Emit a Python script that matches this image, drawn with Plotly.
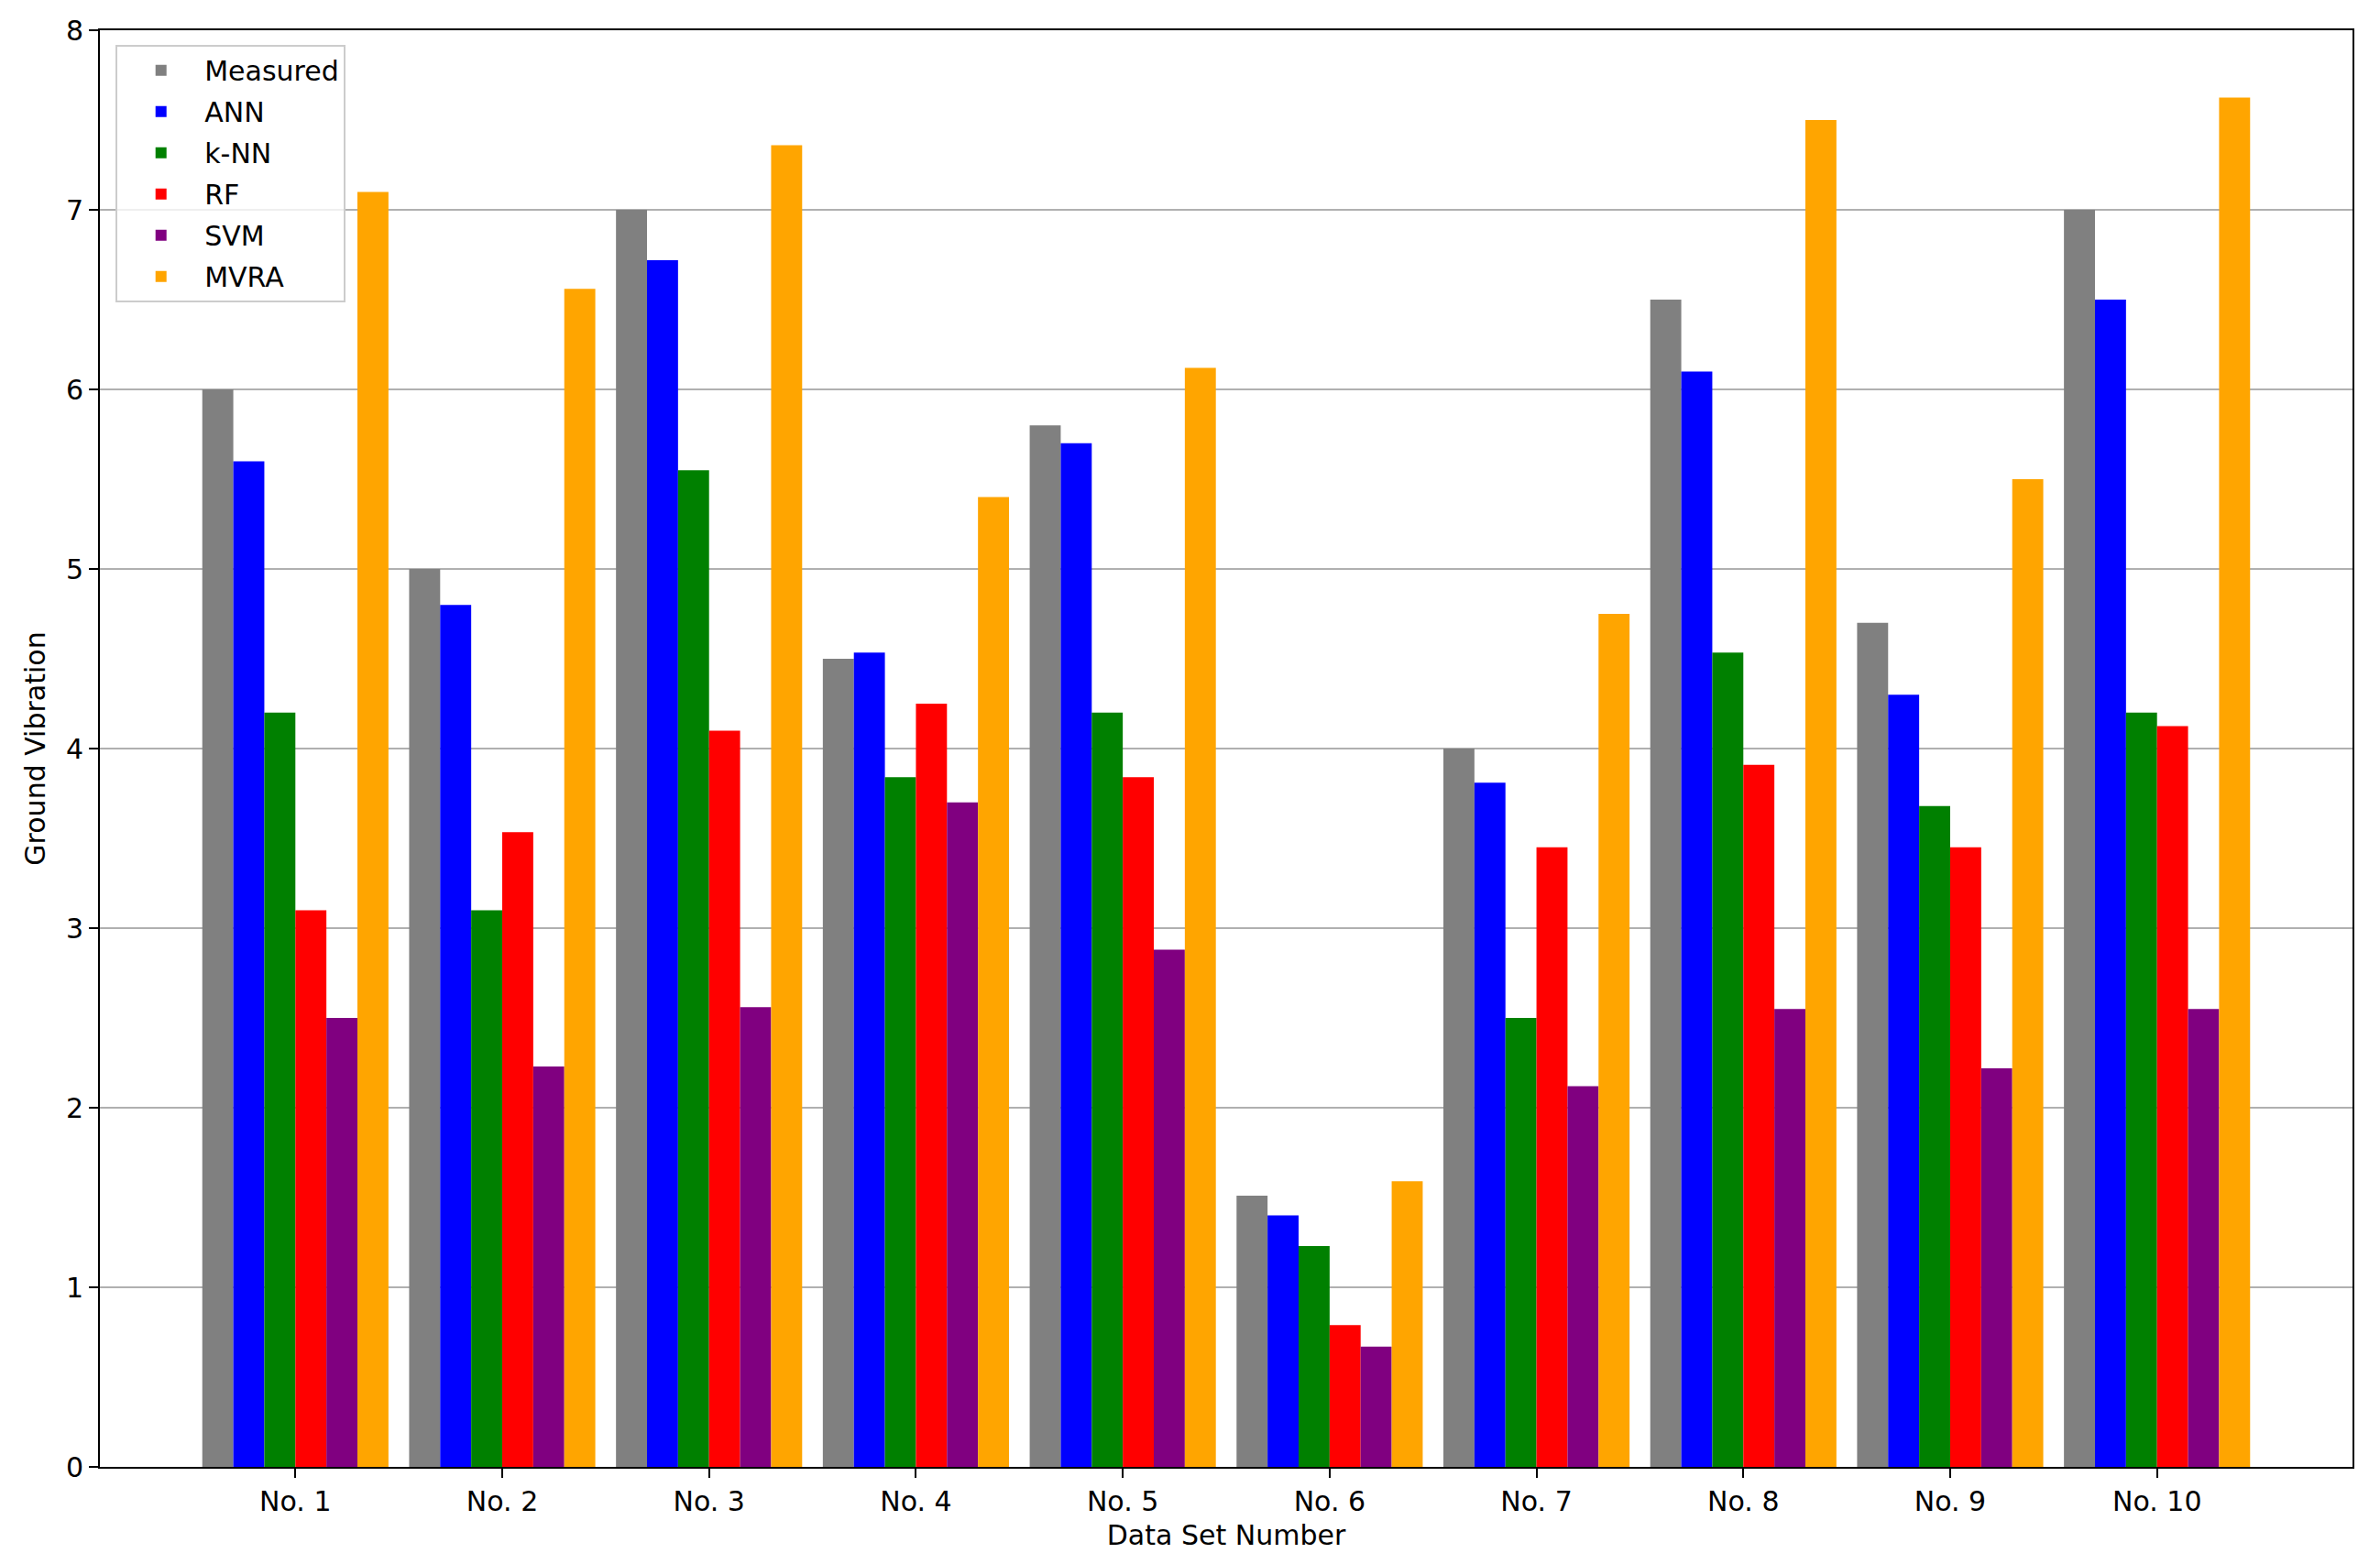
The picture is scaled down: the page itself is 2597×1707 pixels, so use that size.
import plotly.graph_objects as go

categories = ["No. 1", "No. 2", "No. 3", "No. 4", "No. 5", "No. 6", "No. 7", "No. 8", "No. 9", "No. 10"]
measured = [6.0, 5.0, 7.0, 4.5, 5.8, 1.51, 4.0, 6.5, 4.7, 7.0]
ann = [5.6, 4.8, 6.72, 4.535, 5.7, 1.4, 3.81, 6.1, 4.3, 6.5]
knn = [4.2, 3.1, 5.55, 3.84, 4.2, 1.23, 2.5, 4.535, 3.68, 4.2]
rf = [3.1, 3.535, 4.1, 4.25, 3.84, 0.79, 3.45, 3.91, 3.45, 4.125]
svm = [2.5, 2.23, 2.56, 3.7, 2.88, 0.67, 2.12, 2.55, 2.22, 2.55]
mvra = [7.1, 6.56, 7.36, 5.4, 6.12, 1.59, 4.75, 7.5, 5.5, 7.625]

series = [
    ("Measured", measured, "#808080"),
    ("ANN", ann, "#0000ff"),
    ("k-NN", knn, "#008000"),
    ("RF", rf, "#ff0000"),
    ("SVM", svm, "#800080"),
    ("MVRA", mvra, "#ffa500"),
]

font = "DejaVu Sans"
fig = go.Figure()
for name, vals, col in series:
    fig.add_trace(go.Bar(x=categories, y=vals, name=name, marker_color=col,
                         marker_line_width=0, legendgroup=name))

# page body has a default 8px margin; sizes compensate for it
fig.update_layout(
    width=2589, height=1699,
    paper_bgcolor="white", plot_bgcolor="white",
    barmode="group", bargap=0.1, bargroupgap=0,
    margin=dict(l=101, r=30, t=25, b=106, autoexpand=False),
    font=dict(family=font, size=30, color="black"),
    legend=dict(x=0.007, y=0.99, xanchor="left", yanchor="top",
                bgcolor="rgba(255,255,255,0.8)", bordercolor="#cccccc", borderwidth=2,
                font=dict(size=30), itemwidth=85, tracegroupgap=3),
    showlegend=True,
)
fig.update_xaxes(
    type="category", range=[-0.945, 9.945], automargin=False,
    showline=True, mirror=True, linecolor="black", linewidth=2,
    ticks="outside", ticklen=10, tickwidth=2, tickcolor="black",
    showgrid=False,
    title=dict(text="Data Set Number", font=dict(size=30), standoff=10),
)
fig.update_yaxes(
    range=[0, 8], dtick=1, tick0=0, automargin=False,
    showline=True, mirror=True, linecolor="black", linewidth=2,
    ticks="outside", ticklen=10, tickwidth=2, tickcolor="black",
    showgrid=True, gridcolor="#b0b0b0", gridwidth=2,
    zeroline=False,
    title=dict(text="Ground Vibration", font=dict(size=30), standoff=13),
)

fig.write_html("out.html")
